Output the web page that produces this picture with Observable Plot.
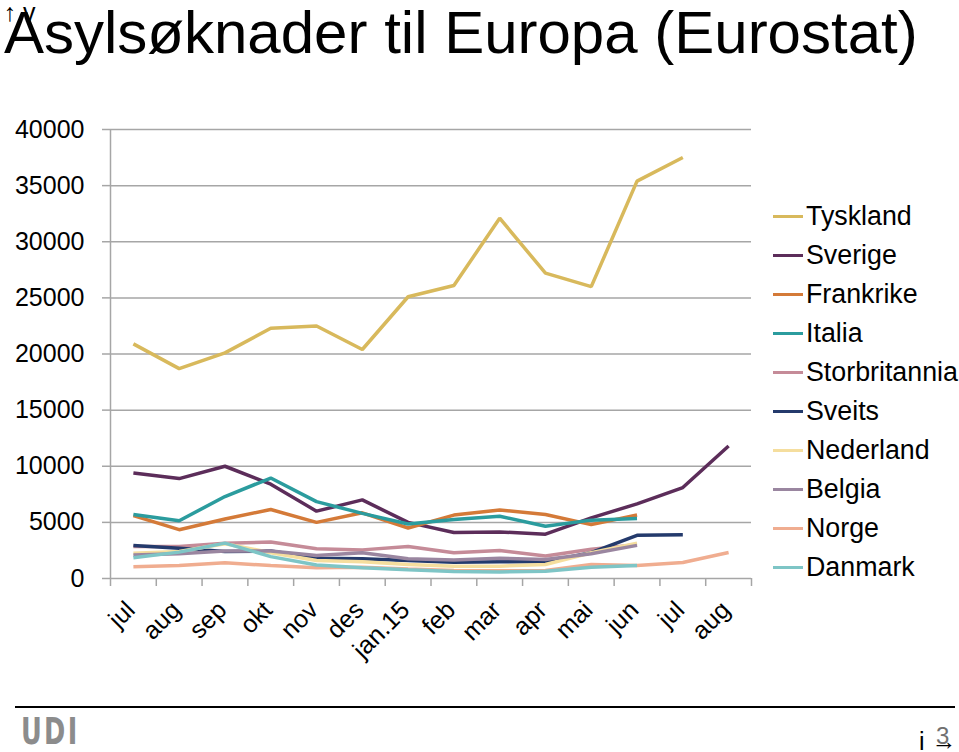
<!DOCTYPE html>
<html>
<head>
<meta charset="utf-8">
<script src="https://cdn.jsdelivr.net/npm/d3@7"></script>
<script src="https://cdn.jsdelivr.net/npm/@observablehq/plot@0.6"></script>
<style>
  html, body { margin: 0; padding: 0; background: #fff; }
  body { width: 959px; height: 752px; position: relative; overflow: hidden; font-family: "Liberation Sans", Arial, sans-serif; }
  #title { position: absolute; left: 4px; top: 0px; font-size: 60px; line-height: 66px; color: #000; white-space: nowrap; }
  #chart { position: absolute; left: 0; top: 0; }
  #legend { position: absolute; left: 773px; top: 197px; }
  .row { display: flex; align-items: center; height: 39px; }
  .sw { width: 30px; height: 3px; }
  .lab { margin-left: 3px; font-size: 26.8px; color: #000; white-space: nowrap; }
  #rule { position: absolute; left: 15px; top: 706px; width: 940px; height: 2px; background: #000; }
  #logo { position: absolute; left: 21px; top: 713px; font-family: "DejaVu Sans Condensed", "DejaVu Sans", sans-serif; font-weight: bold; font-size: 37px; color: #8c8c8c; letter-spacing: 3px; line-height: 38px; transform: scaleX(0.77); transform-origin: left top; }
  #page { position: absolute; left: 936px; top: 722px; font-size: 24px; color: #707070; line-height: 27px; }
</style>
</head>
<body>
<div id="title">Asylsøknader til Europa (Eurostat)</div>
<div id="chart"></div>
<div id="legend"></div>
<div id="rule"></div>
<div id="logo">UDI</div>
<div id="page">3</div>
<script>
const months = ["jul", "aug", "sep", "okt", "nov", "des", "jan.15", "feb", "mar", "apr", "mai", "jun", "jul", "aug"];
const yTicks = [0, 5000, 10000, 15000, 20000, 25000, 30000, 35000, 40000];
const countries = ["Tyskland", "Sverige", "Frankrike", "Italia", "Storbritannia", "Sveits", "Nederland", "Belgia", "Norge", "Danmark"];
const colors = ["#D8B95C", "#5C2D5A", "#D47A38", "#2B9C9E", "#C58B98", "#243A6C", "#F5DE9E", "#9A86A0", "#F0AD90", "#7EC5C6"];

const tyskland      = [20900, 18700, 20100, 22300, 22500, 20400, 25100, 26100, 32100, 27200, 26000, 35400, 37500];
const sverige       = [9400, 8900, 10000, 8400, 6000, 7000, 5000, 4100, 4150, 3950, 5400, 6650, 8100, 11800];
const frankrike     = [5600, 4350, 5300, 6150, 5000, 5850, 4500, 5650, 6100, 5700, 4800, 5650];
const italia        = [5700, 5150, 7300, 8950, 6850, 5800, 4850, 5250, 5550, 4650, 5200, 5350];
const storbritannia = [2850, 2850, 3150, 3250, 2650, 2550, 2850, 2300, 2500, 2000, 2600, 3000];
const sveits        = [2950, 2700, 2400, 2450, 1800, 1750, 1600, 1450, 1500, 1500, 2300, 3850, 3900];
const nederland     = [2250, 2400, 3100, 2300, 1600, 1500, 1250, 1100, 1100, 1250, 2300, 3150];
const belgia        = [2100, 2200, 2450, 2450, 2050, 2300, 1750, 1650, 1800, 1700, 2200, 2950];
const norge         = [1050, 1150, 1400, 1150, 950, 1000, 850, 720, 680, 720, 1250, 1150, 1430, 2320];
const danmark       = [1850, 2350, 3150, 1950, 1200, 950, 770, 620, 580, 650, 1000, 1150];

const seriesValues = [tyskland, sverige, frankrike, italia, storbritannia, sveits, nederland, belgia, norge, danmark];
const rows = countries.flatMap((c, k) => seriesValues[k].map((v, i) => ({country: c, i, v})));

const gray = "#A6A6A6";
const chart = Plot.plot({
  width: 959,
  height: 752,
  marginLeft: 110,
  marginRight: 208,
  marginTop: 129,
  marginBottom: 174,
  x: {domain: [-0.5, 13.5], axis: null},
  y: {domain: [0, 40000], axis: null},
  color: {domain: countries, range: colors},
  style: {fontFamily: "'Liberation Sans', Arial, sans-serif", fontSize: "25px", color: "#000", background: "transparent"},
  marks: [
    Plot.ruleY(yTicks, {x1: -0.5, x2: 13.5, stroke: gray, strokeWidth: 1.5}),
    Plot.ruleX([-0.5], {y1: 0, y2: 40000, stroke: gray, strokeWidth: 1.5}),
    Plot.axisY({ticks: yTicks, tickSize: 8, tickPadding: 18, stroke: gray, tickFormat: d => String(d), fontSize: 25, fill: "#000", strokeWidth: 1.5}),
    Plot.axisX({ticks: d3.range(-0.5, 14, 1), tickSize: 8, tickFormat: () => "", stroke: gray, strokeWidth: 1.5}),
    Plot.text(d3.range(14), {x: d => d, text: i => months[i], frameAnchor: "bottom", rotate: -45, textAnchor: "end", dx: 3, dy: 33, fontSize: 25, fill: "#000"}),
    Plot.line(rows, {x: "i", y: "v", z: "country", stroke: "country", strokeWidth: 3.5, strokeLinejoin: "miter", strokeLinecap: "butt"})
  ]
});
document.getElementById("chart").appendChild(chart);

const legend = document.getElementById("legend");
countries.forEach((c, k) => {
  const row = document.createElement("div");
  row.className = "row";
  const sw = document.createElement("div");
  sw.className = "sw";
  sw.style.background = colors[k];
  const lab = document.createElement("div");
  lab.className = "lab";
  lab.textContent = c;
  row.appendChild(sw);
  row.appendChild(lab);
  legend.appendChild(row);
});
</script>
</body>
</html>
